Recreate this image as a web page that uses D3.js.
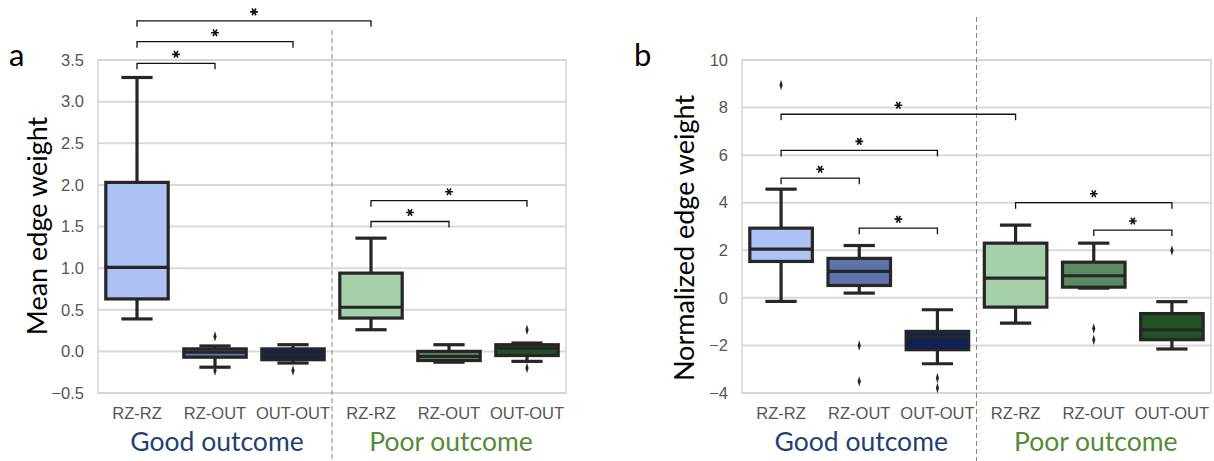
<!DOCTYPE html>
<html>
<head>
<meta charset="utf-8">
<script src="https://cdn.jsdelivr.net/npm/d3@7"></script>
<style>
    body { margin: 0; background: #fff; }
    .tick text { font-family: "Liberation Sans", Arial, sans-serif; fill: #555; }
    .big { font-family: Lato, "Noto Sans", sans-serif; }
</style>
</head>
<body>
<svg id="chart"></svg>
<script>
// categories
var categories = ['RZ-RZ', 'RZ-OUT', 'OUT-OUT', 'RZ-RZ', 'RZ-OUT', 'OUT-OUT'];
var groups = ['Good outcome', 'Poor outcome'];
var boxColors = ['#aec2f5', '#5d74ab', '#0d2256', '#a5d0a9', '#5d8b61', '#225127'];

// 图 a : Mean edge weight
var aTicks = [-0.5, 0, 0.5, 1, 1.5, 2, 2.5, 3, 3.5];
var aWhiskerLow = [0.39, -0.19, -0.14, 0.26, -0.13, -0.12];
var aQ1 = [0.63, -0.07, -0.10, 0.40, -0.11, -0.05];
var aMedian = [1.01, -0.01, -0.04, 0.53, -0.06, 0.04];
var aQ3 = [2.03, 0.03, 0.03, 0.94, 0.00, 0.08];
var aWhiskerHigh = [3.29, 0.065, 0.08, 1.36, 0.08, 0.10];
var aOutliers = [[], [0.18, -0.23], [-0.23], [], [], [0.26, -0.20]];
// significance pairs [from, to, bracket level]
var aPairs = [[0, 1, 3.46], [0, 2, 3.72], [0, 3, 3.97], [3, 4, 1.56], [3, 5, 1.81]];

// 图 b : Normalized edge weight
var bTicks = [-4, -2, 0, 2, 4, 6, 8, 10];
var bWhiskerLow = [-0.15, 0.20, -2.77, -1.06, 0.41, -2.15];
var bQ1 = [1.53, 0.52, -2.18, -0.39, 0.45, -1.76];
var bMedian = [2.05, 1.11, -1.65, 0.83, 0.93, -1.34];
var bQ3 = [2.93, 1.66, -1.41, 2.30, 1.50, -0.66];
var bWhiskerHigh = [4.57, 2.20, -0.50, 3.06, 2.30, -0.16];
var bOutliers = [[8.95], [-2.0, -3.51], [-3.37, -3.79], [], [-1.29, -1.76], [1.99]];
var bPairs = [[0, 1, 5.03], [0, 2, 6.20], [0, 3, 7.72], [1, 2, 2.93], [3, 5, 4.0], [4, 5, 2.85]];

var svgWidth = 1214, svgHeight = 461;
var svg = d3.select('#chart').attr('width', svgWidth).attr('height', svgHeight);

function drawPanel(opt) {
    var x = d3.scaleBand()
        .domain(d3.range(categories.length))
        .range([opt.left, opt.right])
        .paddingInner(0.2)
        .paddingOuter(0.1);
    var step = (opt.right - opt.left) / categories.length;
    var y = d3.scaleLinear()
        .domain(opt.domain)
        .range([opt.bottom, opt.top]);
    var g = svg.append('g');
    var cx = function(i) { return x(i) + x.bandwidth() / 2; };

    // 网格线
    g.selectAll('.grid')
        .data(opt.ticks)
        .enter()
        .append('line')
        .attr('x1', opt.left).attr('x2', opt.right)
        .attr('y1', function(d) { return y(d); })
        .attr('y2', function(d) { return y(d); })
        .attr('stroke', '#d9d9d9')
        .attr('stroke-width', 2);
    // 边框
    g.append('rect')
        .attr('x', opt.left).attr('y', opt.top)
        .attr('width', opt.right - opt.left)
        .attr('height', opt.bottom - opt.top)
        .attr('fill', 'none')
        .attr('stroke', '#d4d4d4')
        .attr('stroke-width', 1.5);

    // y轴
    var yAxis = d3.axisLeft(y)
        .tickValues(opt.ticks)
        .tickSize(0)
        .tickPadding(14)
        .tickFormat(opt.format);
    g.append('g')
        .attr('transform', 'translate(' + opt.left + ',0)')
        .call(yAxis)
        .call(function(s) { s.select('.domain').remove(); })
        .selectAll('text')
        .style('font-size', '16.5px');
    // x轴
    var xAxis = d3.axisBottom(x)
        .tickSize(0)
        .tickPadding(14)
        .tickFormat(function(i) { return categories[i]; });
    g.append('g')
        .attr('transform', 'translate(0,' + opt.bottom + ')')
        .call(xAxis)
        .call(function(s) { s.select('.domain').remove(); })
        .selectAll('text')
        .style('font-size', '16.5px');

    // 分隔虚线
    var divX = opt.left + step * 3;
    g.append('line')
        .attr('x1', divX).attr('x2', divX)
        .attr('y1', opt.divTop).attr('y2', svgHeight)
        .attr('stroke', '#888')
        .attr('stroke-width', 1)
        .attr('stroke-dasharray', '5,3');

    var ink = '#262626';
    var boxes = g.selectAll('.box')
        .data(categories)
        .enter()
        .append('g')
        .attr('class', 'box');
    // 须线
    boxes.append('line')
        .attr('x1', function(d, i) { return cx(i); })
        .attr('x2', function(d, i) { return cx(i); })
        .attr('y1', function(d, i) { return y(opt.wLow[i]); })
        .attr('y2', function(d, i) { return y(opt.wHigh[i]); })
        .attr('stroke', ink).attr('stroke-width', 3.2);
    // 须端
    [opt.wLow, opt.wHigh].forEach(function(arr) {
        boxes.append('line')
            .attr('x1', function(d, i) { return cx(i) - x.bandwidth() / 4; })
            .attr('x2', function(d, i) { return cx(i) + x.bandwidth() / 4; })
            .attr('y1', function(d, i) { return y(arr[i]); })
            .attr('y2', function(d, i) { return y(arr[i]); })
            .attr('stroke', ink).attr('stroke-width', 3.2);
    });
    // 箱体
    boxes.append('rect')
        .attr('x', function(d, i) { return x(i); })
        .attr('y', function(d, i) { return y(opt.q3[i]); })
        .attr('width', x.bandwidth())
        .attr('height', function(d, i) { return y(opt.q1[i]) - y(opt.q3[i]); })
        .attr('fill', function(d, i) { return boxColors[i]; })
        .attr('stroke', ink).attr('stroke-width', 3.2);
    // 中位数
    boxes.append('line')
        .attr('x1', function(d, i) { return x(i); })
        .attr('x2', function(d, i) { return x(i) + x.bandwidth(); })
        .attr('y1', function(d, i) { return y(opt.median[i]); })
        .attr('y2', function(d, i) { return y(opt.median[i]); })
        .attr('stroke', ink).attr('stroke-width', 3.2);
    // 离群点
    boxes.each(function(d, i) {
        d3.select(this).selectAll('.out')
            .data(opt.outliers[i])
            .enter()
            .append('path')
            .attr('d', d3.symbol().type(d3.symbolDiamond).size(16))
            .attr('transform', function(v) {
                return 'translate(' + cx(i) + ',' + y(v) + ') scale(0.75,1.4)';
            })
            .attr('fill', ink);
    });

    // 显著性标记
    var brackets = g.selectAll('.sig')
        .data(opt.pairs)
        .enter()
        .append('g')
        .attr('class', 'sig');
    brackets.append('path')
        .attr('d', function(p) {
            var x1 = cx(p[0]), x2 = cx(p[1]), yy = y(p[2]);
            return 'M' + x1 + ',' + (yy + 6) + 'V' + yy + 'H' + x2 + 'V' + (yy + 6);
        })
        .attr('fill', 'none')
        .attr('stroke', '#111')
        .attr('stroke-width', 1.3);
    // 星号
    brackets.append('path')
        .attr('d', d3.symbol().type(d3.symbolAsterisk).size(42))
        .attr('transform', function(p) {
            return 'translate(' + (cx(p[0]) + cx(p[1])) / 2 + ',' + (y(p[2]) - 9) + ') rotate(90)';
        })
        .attr('fill', 'none')
        .attr('stroke', '#111')
        .attr('stroke-width', 1.6);

    // 组标签
    g.selectAll('.group')
        .data(groups)
        .enter()
        .append('text')
        .attr('class', 'big')
        .attr('x', function(d, i) { return (cx(i * 3) + cx(i * 3 + 2)) / 2 + 2; })
        .attr('y', 451)
        .attr('text-anchor', 'middle')
        .style('font-size', '26.5px')
        .style('fill', function(d, i) { return ['#233f72', '#548b35'][i]; })
        .text(function(d) { return d; });

    // y轴标题
    g.append('text')
        .attr('class', 'big')
        .attr('transform', 'translate(' + opt.labelX + ',' + opt.labelY + ') rotate(-90)')
        .attr('text-anchor', 'middle')
        .style('font-size', '27px')
        .style('fill', '#000')
        .text(opt.label);
    // 面板字母
    g.append('text')
        .attr('class', 'big')
        .attr('x', opt.letterX)
        .attr('y', 66)
        .style('font-size', '31px')
        .style('fill', '#000')
        .text(opt.letter);
}

drawPanel({
    left: 98, right: 566, top: 60, bottom: 393,
    domain: [-0.5, 3.5], ticks: aTicks, format: d3.format('.1f'),
    wLow: aWhiskerLow, q1: aQ1, median: aMedian, q3: aQ3, wHigh: aWhiskerHigh,
    outliers: aOutliers, pairs: aPairs,
    divTop: 30, label: 'Mean edge weight', labelX: 47, labelY: 226,
    letter: 'a', letterX: 9
});
drawPanel({
    left: 742, right: 1211, top: 60, bottom: 393,
    domain: [-4, 10], ticks: bTicks, format: d3.format('d'),
    wLow: bWhiskerLow, q1: bQ1, median: bMedian, q3: bQ3, wHigh: bWhiskerHigh,
    outliers: bOutliers, pairs: bPairs,
    divTop: 17, label: 'Normalized edge weight', labelX: 694, labelY: 238,
    letter: 'b', letterX: 634
});
</script>
</body>
</html>
